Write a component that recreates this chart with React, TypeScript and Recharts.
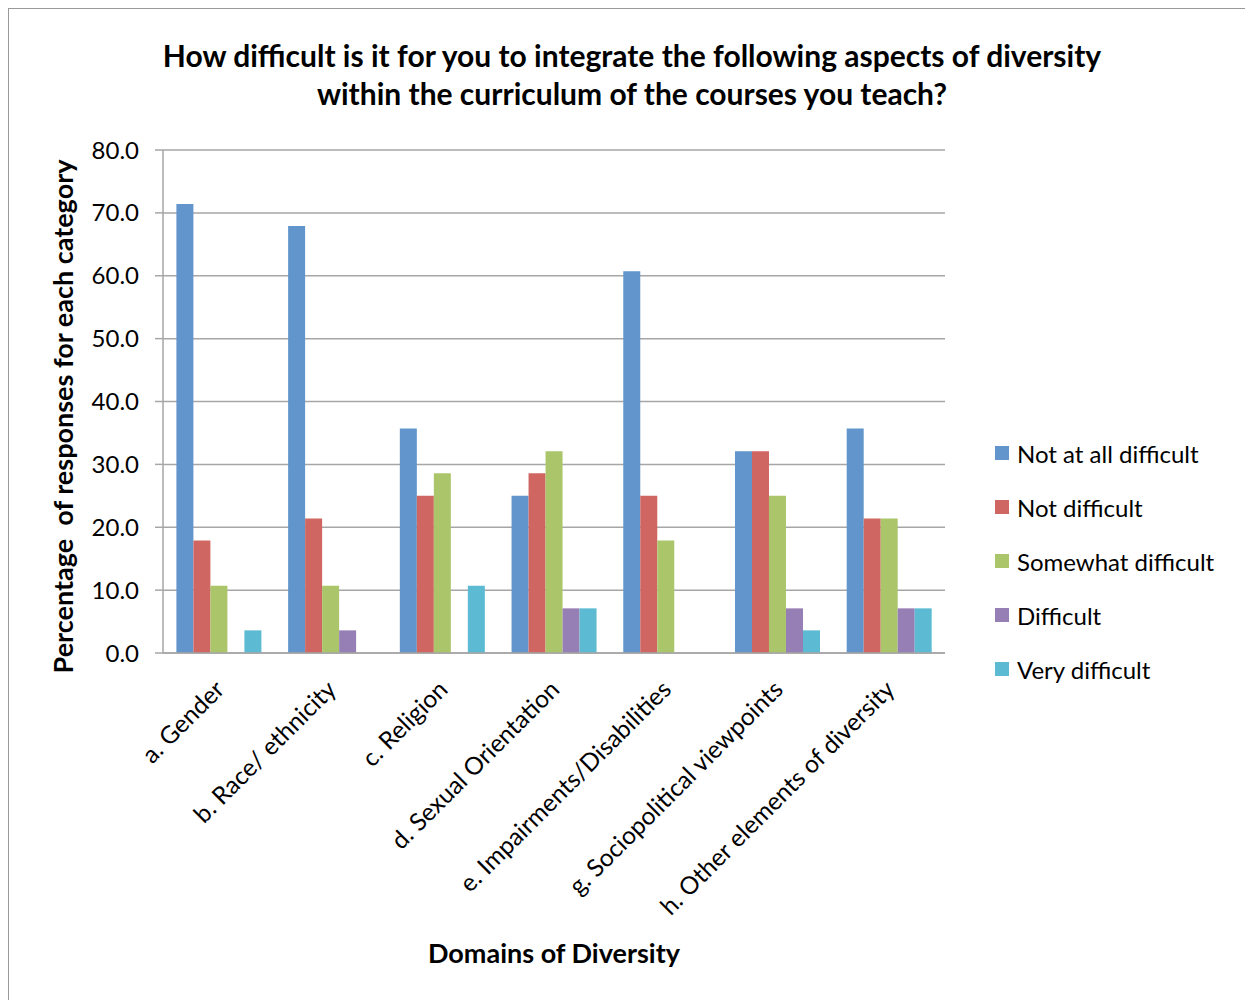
import React from 'react';
import { BarChart, Bar, XAxis, YAxis, CartesianGrid, Legend } from 'recharts';

const categories = [
  'a. Gender',
  'b. Race/ ethnicity',
  'c. Religion',
  'd. Sexual Orientation',
  'e. Impairments/Disabilities',
  'g. Sociopolitical viewpoints',
  'h. Other elements of diversity',
];

const notAtAllDifficult = [71.4, 67.9, 35.7, 25.0, 60.7, 32.1, 35.7];
const notDifficult = [17.9, 21.4, 25.0, 28.6, 25.0, 32.1, 21.4];
const somewhatDifficult = [10.7, 10.7, 28.6, 32.1, 17.9, 25.0, 21.4];
const difficult = [0.0, 3.6, 0.0, 7.1, 0.0, 7.1, 7.1];
const veryDifficult = [3.6, 0.0, 10.7, 7.1, 0.0, 3.6, 7.1];

const yTicks = [0, 10, 20, 30, 40, 50, 60, 70, 80];

const seriesNames = ['Not at all difficult', 'Not difficult', 'Somewhat difficult', 'Difficult', 'Very difficult'];
const seriesValues = [notAtAllDifficult, notDifficult, somewhatDifficult, difficult, veryDifficult];
const seriesColors = ['#6195CB', '#CF6661', '#ABC56A', '#967FB5', '#5CBAD2'];
const seriesKeys = ['s0', 's1', 's2', 's3', 's4'];

const data = categories.map((c, i) => {
  const row: Record<string, any> = { name: c };
  seriesKeys.forEach((k, j) => {
    row[k] = seriesValues[j][i];
  });
  return row;
});

const FONT = 'Lato, "Open Sans", sans-serif';

const XTick = (props: any) => {
  const { x, y, payload } = props;
  const ax = x + 7;
  const ay = y + 30;
  return (
    <text
      x={ax}
      y={ay}
      textAnchor="end"
      fontFamily={FONT}
      fontSize={24.5}
      fill="#000"
      transform={`rotate(-45, ${ax}, ${ay})`}
    >
      {payload.value}
    </text>
  );
};

const YLabel = (props: any) => {
  const { viewBox } = props;
  const cx = viewBox.x + 23;
  const cy = viewBox.y + viewBox.height / 2 + 15;
  return (
    <text
      x={cx}
      y={cy}
      textAnchor="middle"
      dominantBaseline="central"
      fontFamily={FONT}
      fontWeight="bold"
      fontSize={27}
      fill="#000"
      xmlSpace="preserve"
      style={{ whiteSpace: 'pre' }}
      transform={`rotate(-90, ${cx}, ${cy})`}
    >
      {'Percentage  of responses for each category'}
    </text>
  );
};

const XLabel = (props: any) => {
  const { viewBox } = props;
  const cx = viewBox.x + viewBox.width / 2;
  const cy = 943;
  return (
    <text x={cx} y={cy} textAnchor="middle" dominantBaseline="central" fontFamily={FONT} fontWeight="bold" fontSize={27} fill="#000">
      Domains of Diversity
    </text>
  );
};

const LegendContent = () => (
  <div style={{ fontFamily: FONT, fontSize: 24, color: '#000' }}>
    {seriesNames.map((n, i) => (
      <div key={n} style={{ display: 'flex', alignItems: 'center', height: 54 }}>
        <span style={{ display: 'inline-block', width: 14, height: 14, background: seriesColors[i], marginRight: 8 }} />
        <span>{n}</span>
      </div>
    ))}
  </div>
);

export default function App() {
  return (
    <div
      style={{
        position: 'relative',
        width: 1244,
        height: 991,
        borderLeft: '1px solid #999',
        borderTop: '1px solid #999',
        background: '#fff',
      }}
    >
      <div
        style={{
          position: 'absolute',
          left: 0,
          top: 27,
          width: 1246,
          textAlign: 'center',
          fontFamily: FONT,
          fontWeight: 'bold',
          fontSize: 30,
          lineHeight: '38px',
          color: '#000',
          whiteSpace: 'nowrap',
        }}
      >
        How difficult is it for you to integrate the following aspects of diversity
        <br />
        within the curriculum of the courses you teach?
      </div>
      <BarChart
        width={1244}
        height={991}
        data={data}
        margin={{ top: 141, right: 308, bottom: 37, left: 30 }}
        barCategoryGap="12%"
        barGap={0}
      >
        <CartesianGrid vertical={false} stroke="#a6a6a6" strokeWidth={1.5} />
        <XAxis
          dataKey="name"
          height={310}
          interval={0}
          tick={<XTick />}
          tickLine={false}
          axisLine={{ stroke: '#a6a6a6', strokeWidth: 1.5 }}
          label={<XLabel />}
        />
        <YAxis
          width={124}
          domain={[0, 80]}
          ticks={yTicks}
          interval={0}
          tickFormatter={(v: number) => v.toFixed(1)}
          tick={{ fontFamily: FONT, fontSize: 24, fill: '#000' }}
          tickSize={8}
          tickMargin={16}
          tickLine={{ stroke: '#a6a6a6', strokeWidth: 1.5 }}
          axisLine={{ stroke: '#a6a6a6', strokeWidth: 1.5 }}
          label={<YLabel />}
        />
        <Legend
          layout="vertical"
          align="center"
          verticalAlign="middle"
          content={<LegendContent />}
          wrapperStyle={{ left: 986, top: 417, width: 258 }}
        />
        {seriesKeys.map((k, i) => (
          <Bar key={k} dataKey={k} name={seriesNames[i]} fill={seriesColors[i]} isAnimationActive={false} />
        ))}
      </BarChart>
    </div>
  );
}
